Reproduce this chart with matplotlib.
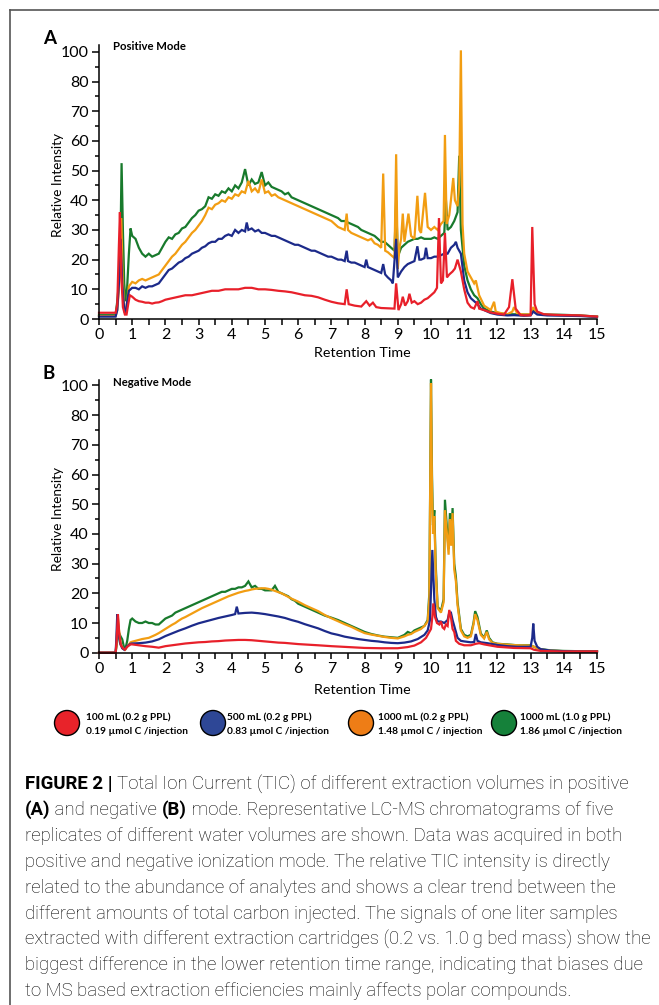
import matplotlib
matplotlib.use("Agg")
import matplotlib.pyplot as plt
from matplotlib.patches import Ellipse
from matplotlib.lines import Line2D
from matplotlib.ticker import MultipleLocator

W, H = 659, 1005

# ---------------- data ----------------
# y values are in axis units: tick labelled "100" sits where 90 would be
ytick_pos = [0, 10, 20, 30, 40, 50, 60, 70, 80, 90]
ytick_lab = ["0", "10", "20", "30", "40", "50", "60", "70", "80", "100"]
xticks = list(range(0, 16))

# Panel A - positive mode
pos_green_t = [0.0, 0.5, 0.55, 0.6, 0.64, 0.68, 0.72, 0.76, 0.8, 0.84, 0.9, 0.95, 1.0,
               1.1, 1.2, 1.3, 1.4, 1.5, 1.6, 1.7, 1.8, 1.9, 2.0, 2.1, 2.2, 2.3, 2.4, 2.5,
               2.6, 2.7, 2.8, 2.9, 3.0, 3.1, 3.2, 3.3, 3.4, 3.5, 3.6, 3.7, 3.8, 3.9, 4.0,
               4.1, 4.2, 4.3, 4.4, 4.5, 4.6, 4.7, 4.8, 4.9, 5.0, 5.1, 5.2, 5.3, 5.4, 5.5,
               5.6, 5.7, 5.8, 5.9, 6.0, 6.1, 6.2, 6.3, 6.4, 6.5, 6.6, 6.7, 6.8, 6.9, 7.0,
               7.1, 7.2, 7.3, 7.4, 7.5, 7.6, 7.7, 7.8, 7.9, 8.0, 8.1, 8.2, 8.3, 8.4, 8.5,
               8.6, 8.7, 8.8, 8.9, 8.95, 9.0, 9.1, 9.2, 9.3, 9.4, 9.5, 9.6, 9.7, 9.8, 9.9,
               10.0, 10.1, 10.2, 10.3, 10.4, 10.45, 10.5, 10.6, 10.7, 10.8, 10.85, 10.9,
               11.0, 11.1, 11.2, 11.3, 11.4, 11.5, 11.6, 11.8, 12.0, 12.3, 12.5, 12.8,
               13.0, 13.1, 13.2, 13.5, 14.0, 14.5, 15.0]
pos_green_v = [1.3, 1.3, 6, 12, 20, 52.5, 30, 12, 6, 9, 22, 30.5, 28,
               27, 24, 22, 21, 22, 21, 21.5, 22, 24, 26, 27.5, 27, 28.5, 29, 30.5,
               31, 32.5, 34, 35, 36.5, 37, 38, 41, 40.5, 42, 41.5, 43, 42.5, 44, 43,
               45, 44, 46, 50.5, 45, 47, 45.5, 46, 49.5, 45, 46, 44.5, 44, 43.5, 43,
               42, 42.5, 41, 40.5, 40, 39.5, 39, 38.5, 38, 37.5, 37, 36.5, 36, 35.5, 35,
               34.5, 34, 33, 33, 32.5, 32, 31.5, 31, 30, 29.5, 29, 28.5, 28, 27, 26,
               26, 25, 24, 23, 40, 21, 24, 25, 26, 26.5, 27, 27, 27.5, 27, 27,
               27, 27.5, 27, 28, 29, 40, 30, 31, 33, 36, 55, 30,
               18, 13, 10, 8, 7, 5, 3.5, 2.5, 2, 1.6, 1.6, 1.5,
               1.5, 3, 1.8, 1.5, 1.4, 1.2, 0.8]

pos_orange_t = [0.0, 0.5, 0.55, 0.6, 0.63, 0.67, 0.71, 0.76, 0.8, 0.85, 0.9, 1.0, 1.1,
                1.2, 1.3, 1.4, 1.5, 1.6, 1.7, 1.8, 1.9, 2.0, 2.1, 2.2, 2.3, 2.4, 2.5,
                2.6, 2.7, 2.8, 2.9, 3.0, 3.1, 3.2, 3.3, 3.4, 3.5, 3.6, 3.7, 3.8, 3.9,
                4.0, 4.1, 4.2, 4.3, 4.4, 4.5, 4.6, 4.7, 4.8, 4.9, 5.0, 5.1, 5.2, 5.3,
                5.4, 5.5, 5.6, 5.7, 5.8, 5.9, 6.0, 6.1, 6.2, 6.3, 6.4, 6.5, 6.6, 6.7,
                6.8, 6.9, 7.0, 7.1, 7.2, 7.3, 7.4, 7.46, 7.5, 7.6, 7.7, 7.8, 7.9, 8.0,
                8.1, 8.2, 8.3, 8.4, 8.5, 8.56, 8.62, 8.7, 8.8, 8.9, 8.95, 9.0, 9.05,
                9.1, 9.15, 9.2, 9.25, 9.32, 9.4, 9.5, 9.59, 9.65, 9.7, 9.82, 9.9, 10.0,
                10.1, 10.2, 10.3, 10.38, 10.42, 10.47, 10.55, 10.6, 10.67, 10.72, 10.8,
                10.85, 10.9, 10.95, 11.0, 11.1, 11.2, 11.3, 11.35, 11.45, 11.6, 11.8,
                11.9, 11.95, 12.1, 12.3, 12.45, 12.5, 12.6, 12.8, 13.0, 13.08, 13.2,
                13.5, 14.0, 14.5, 15.0]
pos_orange_v = [1.0, 1.0, 3, 10, 20, 34, 15, 3, 1.5, 6, 11, 12.5, 12,
                13, 13.5, 13, 13.5, 14, 14.5, 15, 16.5, 18, 19.5, 21, 22, 23.5, 25,
                26, 27.5, 29, 30, 31.5, 33, 35, 37.5, 37, 38.5, 39, 40, 39.5, 41,
                40.5, 42, 41.5, 43, 42.5, 46.5, 43, 44, 42.5, 47, 42.5, 43, 41.5, 42,
                41, 40.5, 40, 39.5, 39, 38.5, 38, 37.5, 37, 36.5, 36, 35.5, 35, 34.5,
                34, 33.5, 33, 32, 31, 30.5, 30, 35.5, 30, 29, 28.5, 28, 27.5, 27,
                26.5, 27, 25.5, 25, 24, 49, 23, 22.5, 21.5, 20.5, 55.5, 17, 24,
                27, 35.5, 26, 30, 35.5, 28, 27, 41.5, 30, 29, 42.5, 31, 30,
                31, 30, 32, 33, 62, 32, 35, 40, 47.5, 40, 38,
                45, 90.5, 32, 22, 16, 14, 12, 13, 8, 4.5, 3,
                5.8, 2.5, 2, 1.6, 2.5, 4, 1.8, 1.5, 1.6, 4, 1.7,
                1.4, 1.3, 1.1, 0.8]

pos_blue_t = [0.0, 0.5, 0.55, 0.6, 0.65, 0.7, 0.76, 0.8, 0.85, 0.9, 1.0, 1.1, 1.2,
              1.3, 1.4, 1.5, 1.6, 1.7, 1.8, 1.9, 2.0, 2.1, 2.2, 2.3, 2.4, 2.5, 2.6,
              2.7, 2.8, 2.9, 3.0, 3.1, 3.2, 3.3, 3.4, 3.5, 3.6, 3.7, 3.8, 3.9, 4.0,
              4.1, 4.2, 4.3, 4.4, 4.45, 4.5, 4.6, 4.7, 4.8, 4.9, 5.0, 5.1, 5.2, 5.3,
              5.4, 5.5, 5.6, 5.7, 5.8, 5.9, 6.0, 6.1, 6.2, 6.3, 6.4, 6.5, 6.6, 6.7,
              6.8, 6.9, 7.0, 7.1, 7.2, 7.3, 7.4, 7.46, 7.5, 7.6, 7.7, 7.8, 7.9, 8.0,
              8.05, 8.1, 8.2, 8.3, 8.4, 8.5, 8.56, 8.62, 8.7, 8.8, 8.85, 8.95, 9.0,
              9.1, 9.2, 9.3, 9.4, 9.5, 9.59, 9.65, 9.7, 9.8, 9.85, 9.9, 10.0, 10.1,
              10.2, 10.3, 10.4, 10.5, 10.6, 10.7, 10.75, 10.8, 10.9, 11.0, 11.1, 11.2,
              11.3, 11.4, 11.5, 11.6, 11.8, 12.0, 12.3, 12.5, 12.8, 13.0, 13.08, 13.2,
              13.5, 14.0, 14.5, 15.0]
pos_blue_v = [0.8, 0.8, 3, 12, 27, 12, 3, 1.5, 6, 9.5, 10.5, 10.5, 10,
              11, 10.5, 11, 11, 11.5, 12, 13.5, 15, 16.5, 17, 18, 19, 19.5, 20.5,
              21, 22, 22.5, 23, 24, 24.5, 25.5, 26, 26, 27, 27, 28, 28.5, 28,
              30, 29, 30, 29.5, 32.5, 30, 30.5, 29.5, 30, 29, 29, 28.5, 28, 28,
              27.5, 27, 26.5, 26, 25.5, 25, 25, 24.5, 24, 23.5, 23, 23, 22.5, 22,
              21.5, 21, 21, 20.5, 20, 20, 19.5, 23, 19.5, 19, 19, 18.5, 18, 17.5,
              20, 17.5, 17, 16.5, 16, 15.5, 18.5, 15, 14, 13, 12, 27, 14,
              16, 17.5, 18.5, 19, 19.5, 24.5, 20, 20, 20.5, 24, 20.5, 20.5, 21,
              21, 21.5, 22, 22, 24, 25, 26, 24, 22, 13, 9, 7,
              6, 5, 3.5, 3, 2, 1.5, 1.2, 1.3, 1.1, 1.2, 2.5, 1.5,
              1.2, 1.1, 1.0, 0.7]

pos_red_t = [0.0, 0.5, 0.55, 0.6, 0.63, 0.67, 0.72, 0.78, 0.83, 0.88, 0.93, 1.0, 1.1,
             1.2, 1.3, 1.4, 1.5, 1.6, 1.7, 1.8, 1.9, 2.0, 2.2, 2.4, 2.6, 2.8, 3.0,
             3.2, 3.4, 3.6, 3.8, 4.0, 4.2, 4.4, 4.6, 4.8, 5.0, 5.2, 5.4, 5.6, 5.8,
             6.0, 6.2, 6.4, 6.6, 6.8, 7.0, 7.2, 7.4, 7.46, 7.52, 7.7, 7.9, 8.05,
             8.15, 8.25, 8.35, 8.5, 8.7, 8.9, 8.95, 9.02, 9.1, 9.15, 9.22, 9.3,
             9.35, 9.42, 9.5, 9.6, 9.7, 9.8, 9.9, 10.0, 10.1, 10.18, 10.24, 10.3,
             10.36, 10.42, 10.48, 10.55, 10.65, 10.72, 10.8, 10.85, 10.9, 11.0,
             11.1, 11.2, 11.3, 11.4, 11.45, 11.6, 11.8, 12.0, 12.2, 12.35, 12.45,
             12.55, 12.7, 12.9, 13.0, 13.05, 13.12, 13.2, 13.4, 13.7, 14.0, 14.5,
             15.0]
pos_red_v = [2.1, 2.1, 5, 25, 36, 15, 4, 1.5, 1.5, 5, 8, 7.5, 6.5,
             6, 5.8, 5.5, 5.5, 5.2, 5.5, 5.6, 6, 6.5, 7, 7.5, 8, 8, 8.5,
             9, 9.5, 9.5, 10, 10, 10, 10.5, 10.5, 10, 10, 9.8, 9.5, 9.3, 9,
             8.5, 8, 7.8, 7.3, 6.5, 5.8, 5.3, 5, 10, 5, 4.5, 4.2, 6,
             4.5, 5.5, 4, 3.7, 3.6, 3.5, 12, 3, 5, 7.5, 4.5, 6,
             8.5, 5.5, 6, 5, 5.5, 6.5, 7, 8, 9, 10.5, 34, 12,
             13, 29, 14, 15, 16, 17, 20, 18, 16, 10,
             5.5, 4, 3.5, 6, 3.5, 3, 2.2, 1.8, 1.5, 4, 13.4,
             3.5, 1.3, 1.2, 1.3, 31, 5, 2.5, 1.6, 1.4, 1.3, 1.2,
             0.8]

# Panel B - negative mode
neg_green_t = [0.0, 0.5, 0.55, 0.6, 0.65, 0.7, 0.75, 0.8, 0.85, 0.9, 0.95, 1.0, 1.1,
               1.2, 1.3, 1.4, 1.5, 1.6, 1.7, 1.8, 1.9, 2.0, 2.1, 2.2, 2.3, 2.4, 2.5,
               2.6, 2.7, 2.8, 2.9, 3.0, 3.1, 3.2, 3.3, 3.4, 3.5, 3.6, 3.7, 3.8, 3.9,
               4.0, 4.1, 4.2, 4.3, 4.4, 4.5, 4.6, 4.7, 4.8, 4.9, 5.0, 5.1, 5.2, 5.3,
               5.4, 5.5, 5.6, 5.7, 5.8, 5.9, 6.0, 6.2, 6.4, 6.6, 6.8, 7.0, 7.2, 7.4,
               7.6, 7.8, 8.0, 8.2, 8.4, 8.6, 8.8, 9.0, 9.2, 9.3, 9.4, 9.5, 9.6, 9.7,
               9.8, 9.9, 9.95, 10.0, 10.03, 10.06, 10.1, 10.14, 10.2, 10.3, 10.38,
               10.42, 10.48, 10.53, 10.57, 10.61, 10.65, 10.7, 10.75, 10.8, 10.9,
               11.0, 11.1, 11.2, 11.28, 11.33, 11.4, 11.5, 11.6, 11.68, 11.75, 11.85,
               12.0, 12.3, 12.6, 13.0, 13.1, 13.3, 13.6, 14.0, 14.5, 15.0]
neg_green_v = [0, 0, 4, 6.8, 5.5, 4.5, 2, 1.5, 4, 8, 11, 11.5, 10.5,
               10, 10, 10.5, 10, 10, 9.5, 9.5, 10.5, 11.5, 12, 12.5, 13.5, 14, 14.5,
               15, 15.5, 16, 16.5, 17, 17.5, 18, 18.5, 19, 19.5, 20, 20.5, 20.5, 21,
               21.5, 21.5, 22, 22, 22.5, 24, 22, 22.5, 21.5, 21.5, 21, 21, 21, 22.5,
               20.5, 20, 19.5, 19, 18, 17.5, 16.5, 15.5, 14.5, 13.5, 12.5, 11.8, 11, 10,
               9, 8, 7, 6.3, 5.8, 5.4, 5.2, 5, 6, 7, 6.5, 7.5, 8, 8.5,
               9, 11, 20, 92, 60, 43, 48, 30, 15.5, 14, 18,
               51.5, 42, 35, 47, 38, 48.7, 30, 25.5, 17, 8,
               6, 5.5, 6, 10, 14, 12, 6.5, 5, 7.5, 5, 3.5,
               3, 2.8, 2.5, 2.5, 2, 1.2, 0.8, 0.6, 0.5, 0.5]

neg_orange_t = [0.0, 0.5, 0.53, 0.56, 0.6, 0.65, 0.72, 0.78, 0.85, 0.95, 1.0, 1.1,
                1.2, 1.3, 1.4, 1.5, 1.6, 1.7, 1.8, 1.9, 2.0, 2.1, 2.2, 2.3, 2.4, 2.5,
                2.6, 2.7, 2.8, 2.9, 3.0, 3.1, 3.2, 3.3, 3.4, 3.5, 3.6, 3.7, 3.8, 3.9,
                4.0, 4.1, 4.2, 4.3, 4.4, 4.5, 4.6, 4.7, 4.8, 4.9, 5.0, 5.1, 5.2, 5.3,
                5.4, 5.5, 5.6, 5.7, 5.8, 5.9, 6.0, 6.2, 6.4, 6.6, 6.8, 7.0, 7.2, 7.4,
                7.6, 7.8, 8.0, 8.2, 8.4, 8.6, 8.8, 9.0, 9.2, 9.3, 9.4, 9.5, 9.6, 9.7,
                9.8, 9.9, 9.95, 10.0, 10.03, 10.06, 10.1, 10.14, 10.2, 10.3, 10.38,
                10.42, 10.48, 10.53, 10.57, 10.61, 10.65, 10.7, 10.75, 10.8, 10.9,
                11.0, 11.1, 11.2, 11.28, 11.33, 11.4, 11.5, 11.6, 11.68, 11.75, 11.85,
                12.0, 12.3, 12.6, 13.0, 13.1, 13.3, 13.6, 14.0, 14.5, 15.0]
neg_orange_v = [0, 0, 3, 13, 8, 3, 1.5, 1, 2, 3.5, 3.7, 4,
                4.3, 4.6, 4.8, 5, 5.5, 6, 6.6, 7.3, 8, 8.7, 9.4, 10, 10.8, 11.5,
                12, 12.6, 13.2, 13.8, 14.4, 15, 15.5, 16, 16.5, 17, 17.5, 18, 18.5, 19,
                19.4, 19.8, 20.2, 20.5, 20.8, 21, 21.3, 21.5, 21.6, 21.7, 21.7, 21.5, 21.2, 20.8,
                20.4, 20, 19.4, 18.8, 18.2, 17.7, 17.2, 16, 15, 14, 12.7, 11.6, 10.6, 9.6,
                8.7, 7.6, 6.6, 6.1, 5.7, 5.3, 5, 4.8, 5.5, 6, 6.3, 7, 7.5, 8,
                9, 10.5, 18, 90.8, 55, 40, 46, 28, 15, 13.5, 17,
                48, 40, 33, 45, 36, 47, 28, 24, 16, 7.5,
                5.5, 5, 5.5, 9.5, 13, 11, 6, 4.8, 7, 4.5, 3.3,
                3, 2.7, 2.5, 2.4, 2, 1.1, 0.7, 0.5, 0.5, 0.5]

neg_blue_t = [0.0, 0.5, 0.52, 0.55, 0.59, 0.64, 0.7, 0.76, 0.85, 0.95, 1.0, 1.2, 1.4,
              1.6, 1.8, 2.0, 2.2, 2.4, 2.6, 2.8, 3.0, 3.2, 3.4, 3.6, 3.8, 4.0, 4.1,
              4.15, 4.2, 4.4, 4.6, 4.8, 5.0, 5.2, 5.4, 5.6, 5.8, 6.0, 6.2, 6.4, 6.6,
              6.8, 7.0, 7.2, 7.4, 7.6, 7.8, 8.0, 8.2, 8.4, 8.6, 8.8, 9.0, 9.2, 9.4,
              9.6, 9.8, 9.9, 9.97, 10.04, 10.1, 10.15, 10.2, 10.3, 10.4, 10.5, 10.55,
              10.6, 10.65, 10.7, 10.8, 10.9, 11.0, 11.2, 11.3, 11.35, 11.4, 11.5,
              11.7, 12.0, 12.3, 12.6, 13.0, 13.05, 13.08, 13.12, 13.2, 13.3, 13.6,
              14.0, 14.5, 15.0]
neg_blue_v = [0, 0, 4, 12.9, 7, 3, 1.5, 1, 2.2, 3, 3.1, 3.2, 3.4,
              3.8, 4.5, 5.6, 6.5, 7.4, 8.2, 9.1, 9.9, 10.5, 11.1, 11.7, 12.2, 12.7, 13,
              15.5, 13.2, 13.4, 13.5, 13.3, 13, 12.6, 12.2, 11.7, 11, 10.4, 9.6, 8.9, 8.2,
              7.3, 6.5, 6, 5.4, 5, 4.6, 4.3, 4, 3.8, 3.5, 3.3, 3.2, 3.4, 3.8,
              4.6, 6, 7.5, 11, 34.6, 18, 12, 10.5, 10.5, 10, 11, 13.5,
              13.5, 11, 9, 5, 4, 3.8, 3.5, 3.6, 6.3, 4, 3.5,
              3.2, 2.6, 2.2, 2, 2, 5, 9.8, 4, 2, 1.2, 0.7,
              0.5, 0.4, 0.4]

neg_red_t = [0.0, 0.5, 0.53, 0.57, 0.61, 0.66, 0.72, 0.78, 0.85, 0.95, 1.0, 1.2, 1.4,
             1.6, 1.8, 2.0, 2.2, 2.4, 2.6, 2.8, 3.0, 3.2, 3.4, 3.6, 3.8, 4.0, 4.2,
             4.4, 4.6, 4.8, 5.0, 5.2, 5.4, 5.6, 5.8, 6.0, 6.3, 6.6, 7.0, 7.5, 8.0,
             8.5, 9.0, 9.3, 9.5, 9.7, 9.85, 9.95, 10.0, 10.04, 10.07, 10.12, 10.18,
             10.25, 10.3, 10.35, 10.4, 10.45, 10.5, 10.55, 10.6, 10.65, 10.7, 10.75,
             10.85, 11.0, 11.2, 11.35, 11.45, 11.6, 11.8, 12.0, 12.5, 13.0, 13.1,
             13.3, 13.6, 14.0, 15.0]
neg_red_v = [0, 0, 4, 13, 6, 2.5, 1.5, 1, 2, 2.8, 2.8, 2.5, 2.2,
             2, 1.7, 2.2, 2.5, 2.8, 3.1, 3.3, 3.5, 3.6, 3.8, 3.9, 4.1, 4.2, 4.3,
             4.3, 4.2, 4, 3.8, 3.6, 3.4, 3.3, 3.1, 2.9, 2.7, 2.5, 2.2, 1.9, 1.6,
             1.5, 1.5, 1.9, 2.4, 3.5, 5, 7, 8, 12, 16.6, 12, 10,
             9.5, 10.5, 8.5, 8, 9.5, 9, 14.4, 12, 8, 7, 4,
             3, 2.5, 2.5, 3, 3.2, 2.8, 2.4, 2, 1.6, 1.5, 1,
             0.6, 0.5, 0.4, 0.4]

legend_line1 = ["100 mL (0.2 g PPL)", "500 mL (0.2 g PPL)", "1000 mL (0.2 g PPL)", "1000 mL (1.0 g PPL)"]
legend_line2 = ["0.19 \u00b5mol C /injection", "0.83 \u00b5mol C /injection",
                "1.48 \u00b5mol C / injection", "1.86 \u00b5mol C /injection"]

caption_lines = [
    [("FIGURE 2 | ", "bold"), ("Total Ion Current (TIC) of different extraction volumes in positive", "light")],
    [("(A)", "bold"), (" and negative ", "light"), ("(B)", "bold"),
     (" mode. Representative LC-MS chromatograms of five", "light")],
    [("replicates of different water volumes are shown. Data was acquired in both", "light")],
    [("positive and negative ionization mode. The relative TIC intensity is directly", "light")],
    [("related to the abundance of analytes and shows a clear trend between the", "light")],
    [("different amounts of total carbon injected. The signals of one liter samples", "light")],
    [("extracted with different extraction cartridges (0.2 vs. 1.0\u2009g bed mass) show the", "light")],
    [("biggest difference in the lower retention time range, indicating that biases due", "light")],
    [("to MS based extraction efficiencies mainly affects polar compounds.", "light")],
]

col_line = {"red": "#e8202a", "blue": "#1c2a8a", "orange": "#f29d12", "green": "#187a2c"}
col_leg = {"red": "#e8232a", "blue": "#2e4796", "orange": "#ee7d16", "green": "#15813a"}

# ---------------- figure ----------------
plt.rcParams["font.family"] = ["Lato", "DejaVu Sans"]
fig = plt.figure(figsize=(W / 100, H / 100), dpi=100)


def fx(x):
    return x / W


def fy(y):
    return 1 - y / H


# open frame around the figure (top and left)
fig.add_artist(Line2D([fx(10), 1.0], [fy(10.5), fy(10.5)], color="#555555", lw=1.2))
fig.add_artist(Line2D([fx(10), fx(10)], [fy(10.5), 0.0], color="#555555", lw=1.2))


def make_panel(bottom_px, top_px, ymax, series, letter, mode, letter_y, mode_y, ylab_y, xlab_y):
    ax = fig.add_axes([fx(99), fy(bottom_px), fx(597) - fx(99), (bottom_px - top_px) / H])
    for t, v, c in series:
        ax.plot(t, v, color=col_line[c], lw=1.6, solid_joinstyle="miter", clip_on=False)
    ax.set_xlim(0, 15)
    ax.set_ylim(0, ymax)
    for s in ["top", "right"]:
        ax.spines[s].set_visible(False)
    for s in ["left", "bottom"]:
        ax.spines[s].set_linewidth(1.1)
    ax.set_yticks(ytick_pos)
    ax.set_yticklabels(ytick_lab)
    ax.yaxis.set_minor_locator(MultipleLocator(5))
    ax.set_xticks(xticks)
    ax.xaxis.set_minor_locator(MultipleLocator(0.5))
    ax.tick_params(axis="y", which="major", length=5, width=1.1, pad=2.5, labelsize=11.5)
    ax.tick_params(axis="y", which="minor", length=3, width=1.1)
    ax.tick_params(axis="x", which="both", length=4.5, width=1.1, pad=2, labelsize=11.5)
    ax.patch.set_alpha(0)
    fig.text(fx(43), fy(letter_y), letter, fontsize=13.5, fontweight="bold", va="center", ha="left")
    fig.text(fx(113), fy(mode_y), mode, fontsize=8.2, fontweight="bold", va="center", ha="left")
    fig.text(fx(58), fy(ylab_y), "Relative Intensity", fontsize=9.8, rotation=90, va="center", ha="center")
    fig.text(fx(362), fy(xlab_y), "Retention Time", fontsize=10.3, va="center", ha="center")
    return ax


make_panel(319, 45, 92.3,
           [(pos_green_t, pos_green_v, "green"), (pos_orange_t, pos_orange_v, "orange"),
            (pos_blue_t, pos_blue_v, "blue"), (pos_red_t, pos_red_v, "red")],
           "A", "Positive Mode", 39, 46, 185, 353)
make_panel(652.7, 379.5, 92.0,
           [(neg_green_t, neg_green_v, "green"), (neg_orange_t, neg_orange_v, "orange"),
            (neg_blue_t, neg_blue_v, "blue"), (neg_red_t, neg_red_v, "red")],
           "B", "Negative Mode", 373, 382, 519, 690)

# legend
leg_cx = [67, 213, 361, 504]
leg_tx = [86, 227, 378, 520]
for cx, tx, key, l1, l2 in zip(leg_cx, leg_tx, ["red", "blue", "orange", "green"], legend_line1, legend_line2):
    fig.add_artist(Ellipse((fx(cx), fy(723)), 25 / W, 25 / H, transform=fig.transFigure,
                           facecolor=col_leg[key], edgecolor="black", lw=1.0))
    fig.text(fx(tx), fy(717), l1, fontsize=7.3, fontweight="bold", va="center", ha="left")
    fig.text(fx(tx), fy(731), l2, fontsize=7.3, fontweight="bold", va="center", ha="left")

# caption
renderer = fig.canvas.get_renderer()
cap_y0, cap_dy = 784, 25.9
for i, parts in enumerate(caption_lines):
    x = 25.0
    y = cap_y0 + i * cap_dy
    for txt, wt in parts:
        t = fig.text(fx(x), fy(y), txt, fontsize=13.4, fontweight=wt, va="center", ha="left",
                     family=["Roboto", "DejaVu Sans"], color="black")
        bb = t.get_window_extent(renderer=renderer)
        x += bb.width

fig.savefig("out.png", dpi=100)
